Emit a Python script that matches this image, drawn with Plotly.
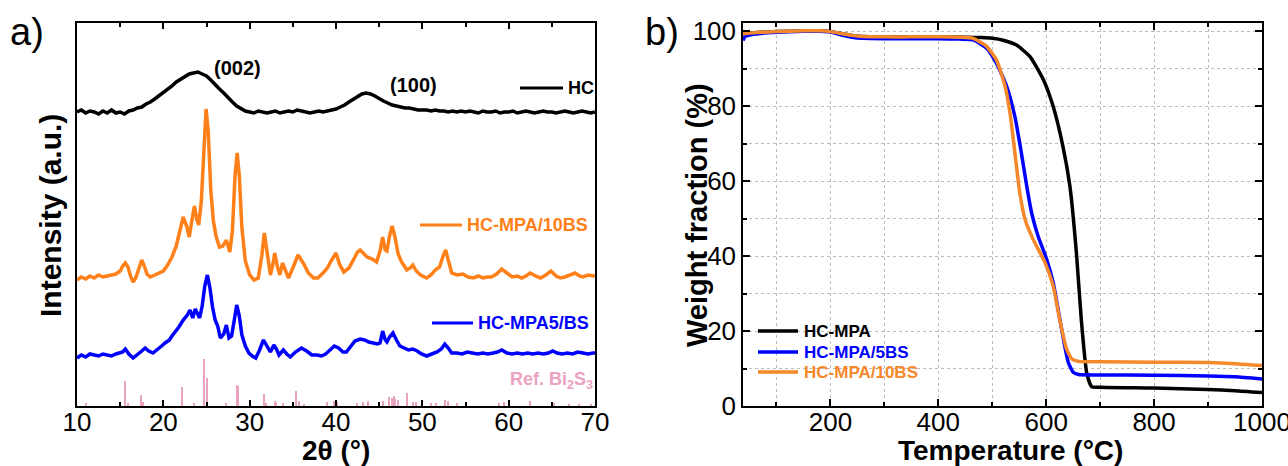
import plotly.graph_objects as go

# ---------------- Panel a: XRD ----------------
hc_x = [10, 10.5, 11, 11.5, 12, 12.5, 13, 13.5, 14, 14.5, 15, 15.5, 16, 16.5, 17, 17.5, 18, 18.5, 19, 19.5,
        20, 20.5, 21, 21.5, 22, 22.5, 23, 23.5, 24, 24.5, 25, 25.5, 26, 26.5, 27, 27.5, 28, 28.5, 29, 29.5,
        30, 30.5, 31, 31.5, 32, 32.5, 33, 33.5, 34, 34.5, 35, 35.5, 36, 36.5, 37, 37.5, 38, 38.5, 39, 39.5,
        40, 40.5, 41, 41.5, 42, 42.5, 43, 43.5, 44, 44.5, 45, 45.5, 46, 46.5, 47, 47.5, 48, 48.5, 49, 49.5,
        50, 50.5, 51, 51.5, 52, 52.5, 53, 53.5, 54, 54.5, 55, 55.5, 56, 56.5, 57, 57.5, 58, 58.5, 59, 59.5,
        60, 60.5, 61, 61.5, 62, 62.5, 63, 63.5, 64, 64.5, 65, 65.5, 66, 66.5, 67, 67.5, 68, 68.5, 69, 69.5, 70]
hc_y = [294, 296, 293, 295, 294, 292, 295, 293, 296, 293, 294, 292, 295, 296, 298, 299, 302, 304, 307, 310,
        314, 317, 320, 324, 327, 330, 332, 333, 334, 332, 330, 326, 321, 317, 313, 308, 304, 300, 297, 295,
        294, 293, 295, 294, 293, 294, 295, 293, 294, 295, 294, 296, 295, 294, 293, 294, 295, 294, 295, 296,
        297, 299, 301, 304, 307, 310, 312, 313, 312, 310, 307, 305, 303, 301, 300, 299, 298, 298, 297, 296,
        296, 296, 295, 296, 295, 295, 294, 295, 294, 295, 294, 295, 294, 293, 295, 294, 294, 295, 293, 294,
        294, 295, 293, 294, 295, 294, 293, 294, 295, 294, 294, 293, 294, 295, 294, 293, 294, 295, 294, 293, 294]

bs10_x = [10, 10.5, 11, 11.5, 12, 12.5, 13, 13.5, 14, 14.5, 15, 15.3, 15.6, 15.9, 16.2, 16.5, 16.8, 17.1, 17.5, 17.8,
          18.1, 18.5, 19, 19.5, 20, 20.5, 21, 21.5, 21.9, 22.3, 22.7, 23.0, 23.3, 23.6, 23.9, 24.1, 24.4, 24.7, 24.95, 25.2,
          25.5, 25.8, 26.1, 26.5, 26.9, 27.3, 27.7, 28.0, 28.3, 28.55, 28.8, 29.1, 29.5, 30.0, 30.5, 31.0, 31.4, 31.7, 32.0, 32.4,
          32.7, 32.9, 33.2, 33.5, 33.8, 34.1, 34.5, 35.0, 35.6, 36.2, 36.8, 37.4, 37.9, 38.5, 39.0, 39.5, 40.0, 40.4, 40.9, 41.5,
          42.0, 42.5, 42.8, 43.2, 43.6, 44.2, 44.7, 45.1, 45.4, 45.7, 45.9, 46.2, 46.5, 46.8, 47.2, 47.6, 48.2, 48.6, 48.9, 49.3,
          49.8, 50.5, 51.0, 51.5, 52.0, 52.4, 52.7, 53.0, 53.4, 54.0, 54.7, 55.3, 55.9, 56.5, 57.0, 57.5, 58.0, 58.6, 59.2, 59.8,
          60.4, 61.0, 61.5, 62.0, 62.5, 63.1, 63.7, 64.3, 64.9, 65.5, 66.0, 66.5, 67.1, 67.7, 68.2, 68.6, 69.2, 69.8, 70]
bs10_y = [126, 129, 127, 130, 128, 131, 129, 130, 131, 132, 135, 140, 143, 139, 130, 124, 128, 136, 146, 140,
          132, 129, 131, 133, 135, 141, 149, 160, 175, 189, 180, 169, 185, 200, 186, 181, 205, 260, 297, 275,
          215, 185, 170, 159, 160, 166, 154, 175, 230, 253, 230, 178, 145, 131, 126, 128, 150, 173, 155, 131,
          142, 153, 140, 131, 143, 137, 128, 138, 151, 143, 133, 128, 128, 133, 138, 146, 153, 142, 134, 138,
          146, 154, 156, 152, 149, 147, 144, 155, 169, 156, 155, 170, 180, 170, 152, 144, 136, 138, 141, 135,
          131, 128, 131, 136, 139, 150, 156, 146, 133, 131, 132, 129, 128, 130, 128, 129, 129, 132, 137, 133,
          129, 130, 128, 130, 133, 130, 128, 131, 135, 130, 128, 129, 131, 133, 130, 129, 131, 130, 131]

bs5_x = [10, 10.5, 11, 11.5, 12, 12.5, 13, 13.5, 14, 14.5, 15, 15.3, 15.6, 16.0, 16.5, 17.0, 17.5, 17.9, 18.3, 18.8,
         19.3, 19.8, 20.2, 20.7, 21.0, 21.4, 21.8, 22.3, 22.7, 23.1, 23.4, 23.7, 24.0, 24.2, 24.5, 24.8, 25.1, 25.4, 25.7, 26.0,
         26.3, 26.6, 27.0, 27.3, 27.6, 27.9, 28.2, 28.5, 28.8, 29.1, 29.5, 29.9, 30.3, 30.7, 31.1, 31.6, 32.0, 32.4, 32.8, 33.1,
         33.4, 33.9, 34.3, 34.7, 35.3, 36.0, 36.6, 37.2, 37.8, 38.3, 38.8, 39.3, 39.8, 40.3, 40.8, 41.2, 41.7, 42.2, 42.8, 43.3,
         43.8, 44.3, 44.8, 45.1, 45.4, 45.7, 45.9, 46.2, 46.6, 47.0, 47.4, 47.9, 48.4, 48.9, 49.4, 49.9, 50.5, 51.1, 51.7, 52.2,
         52.6, 53.0, 53.4, 54.0, 54.6, 55.2, 55.8, 56.4, 57.0, 57.6, 58.2, 58.7, 59.2, 59.8, 60.4, 61.0, 61.6, 62.2, 62.8, 63.4,
         64.0, 64.6, 65.1, 65.6, 66.2, 66.8, 67.4, 68.0, 68.6, 69.2, 69.8, 70]
bs5_y = [48, 51, 49, 52, 51, 50, 52, 51, 50, 52, 53, 54, 57, 52, 48, 52, 55, 58, 55, 53,
         56, 60, 63, 66, 70, 74, 79, 86, 90, 96, 88, 97, 92, 88, 100, 120, 131, 118, 99, 86,
         80, 68, 72, 81, 68, 70, 85, 101, 90, 71, 60, 53, 50, 48, 55, 66, 60, 54, 61, 57,
         51, 56, 52, 49, 54, 58, 55, 51, 51, 50, 52, 56, 60, 58, 54, 54, 60, 65, 67, 66,
         64, 63, 62, 63, 75, 66, 64, 69, 73, 66, 60, 58, 56, 57, 55, 52, 50, 52, 54, 57,
         62, 58, 53, 53, 52, 54, 53, 52, 53, 52, 53, 54, 56, 53, 52, 53, 52, 53, 52, 53,
         52, 53, 55, 53, 52, 53, 52, 54, 53, 52, 53, 53]

ref_pos = [11.0, 15.6, 15.9, 17.4, 17.6, 22.2, 23.6, 24.75, 25.05, 27.3, 28.5, 28.65, 31.7, 31.9, 32.9, 33.1,
           33.9, 35.4, 35.7, 36.3, 39.0, 39.8, 40.1, 42.5, 43.1, 43.7, 45.5, 46.2, 46.5, 46.7, 46.9, 47.2,
           48.2, 48.9, 49.3, 51.0, 51.6, 52.6, 53.0, 54.0, 58.9, 59.5, 62.5, 65.3, 67.0, 68.2, 69.5]
ref_h = [3, 25, 3, 11, 4, 19, 3, 47, 28, 3, 21, 20, 12, 3, 5, 3,
         3, 15, 5, 2, 4, 5, 4, 3, 4, 5, 5, 9, 8, 10, 7, 6,
         13, 4, 4, 3, 3, 6, 5, 3, 3, 4, 5, 3, 2, 2, 2]

# ---------------- Panel b: TGA ----------------
t_hc = [38, 50, 70, 100, 150, 180, 200, 220, 240, 260, 300, 350, 400, 450, 480, 500, 520, 545, 570, 595,
        613, 631, 644, 656, 665, 675, 684, 700, 800, 900, 950, 1000]
w_hc = [99.3, 99.5, 99.7, 99.9, 100.1, 100.1, 99.9, 99.4, 98.9, 98.6, 98.5, 98.5, 98.5, 98.4, 98.3, 98.1, 97.6, 96.3, 93.2, 87.0,
        79.9, 69.3, 58.6, 40.9, 23.1, 8.9, 5.2, 5.0, 4.8, 4.4, 4.1, 3.6]
t_5bs = [38, 42, 50, 70, 100, 150, 180, 200, 220, 240, 260, 300, 350, 400, 440, 465, 490, 508, 527, 542,
         554, 564, 573, 585, 601, 613, 622, 632, 641, 650, 660, 700, 800, 900, 950, 1000]
w_5bs = [97.5, 98.6, 99.0, 99.4, 99.7, 100.0, 100.0, 99.8, 99.0, 98.4, 98.1, 98.0, 98.0, 98.0, 97.9, 97.7, 95.4, 91.4, 85.2, 77.2,
         67.5, 58.6, 51.5, 45.3, 39.1, 32.9, 25.8, 17.8, 11.6, 9.0, 8.4, 8.3, 8.2, 8.0, 7.8, 7.2]
t_10bs = [38, 50, 70, 100, 150, 180, 200, 220, 240, 260, 300, 350, 400, 440, 465, 490, 508, 524, 533, 542,
          551, 561, 576, 598, 613, 625, 638, 648, 660, 700, 800, 900, 950, 1000]
w_10bs = [99.3, 99.5, 99.7, 99.9, 100.1, 100.1, 99.9, 99.4, 98.9, 98.6, 98.5, 98.5, 98.5, 98.4, 98.1, 95.9, 92.3, 85.2, 78.1, 67.5,
          56.9, 49.7, 44.4, 38.2, 32.0, 23.1, 15.1, 12.5, 11.9, 11.8, 11.7, 11.6, 11.3, 10.8]

W, H = 1288, 466
FONT = "Liberation Sans"
BLACK = "#000000"
ORANGE_A = "#ff8019"
BLUE = "#0000ff"
PINK = "#e9a3c1"
ORANGE_B = "#f5882a"


def px(x):
    return x / W


def py(y):
    return 1 - y / H


fig = go.Figure()

fig.add_trace(go.Bar(x=ref_pos, y=ref_h, width=0.14, marker=dict(color=PINK, line=dict(width=0)),
                     xaxis="x", yaxis="y", showlegend=False))
fig.add_trace(go.Scatter(x=hc_x, y=hc_y, mode="lines", line=dict(color=BLACK, width=3.5),
                         xaxis="x", yaxis="y", showlegend=False))
fig.add_trace(go.Scatter(x=bs10_x, y=bs10_y, mode="lines", line=dict(color=ORANGE_A, width=3.5),
                         xaxis="x", yaxis="y", showlegend=False))
fig.add_trace(go.Scatter(x=bs5_x, y=bs5_y, mode="lines", line=dict(color=BLUE, width=3.5),
                         xaxis="x", yaxis="y", showlegend=False))

fig.add_trace(go.Scatter(x=t_hc, y=w_hc, mode="lines", line=dict(color=BLACK, width=3.5, shape="spline", smoothing=0.5),
                         xaxis="x2", yaxis="y2", showlegend=False))
fig.add_trace(go.Scatter(x=t_5bs, y=w_5bs, mode="lines", line=dict(color=BLUE, width=3.5, shape="spline", smoothing=0.5),
                         xaxis="x2", yaxis="y2", showlegend=False))
fig.add_trace(go.Scatter(x=t_10bs, y=w_10bs, mode="lines", line=dict(color=ORANGE_B, width=3.5, shape="spline", smoothing=0.5),
                         xaxis="x2", yaxis="y2", showlegend=False))

tickfont = dict(family=FONT, size=26, color="black")
ydom = [py(406), py(23)]

fig.update_layout(
    width=W, height=H, margin=dict(l=0, r=0, t=0, b=0, autoexpand=False),
    plot_bgcolor="white", paper_bgcolor="white", bargap=0,
    xaxis=dict(domain=[px(77), px(595)], range=[10, 70], tickvals=[10, 20, 30, 40, 50, 60, 70],
               ticks="inside", ticklen=6, tickwidth=1.5, tickcolor="black",
               minor=dict(dtick=5, tick0=0, ticks="inside", ticklen=4, tickwidth=1.5, tickcolor="black"),
               showline=True, linecolor="black", linewidth=1.5, mirror="ticks",
               showgrid=False, zeroline=False, tickfont=tickfont, anchor="y", automargin=False,
               ticklabeloverflow="allow", ticklabelstandoff=-8),
    yaxis=dict(domain=ydom, range=[0, 383], showticklabels=False, ticks="",
               showline=True, linecolor="black", linewidth=1.5, mirror=True,
               showgrid=False, zeroline=False, anchor="x", automargin=False),
    xaxis2=dict(domain=[px(743), px(1262)], range=[38, 1000], tickvals=[200, 400, 600, 800, 1000],
                ticks="inside", ticklen=7, tickwidth=1.5, tickcolor="black",
                minor=dict(dtick=100, tick0=0, ticks="inside", ticklen=4, tickwidth=1.5, tickcolor="black",
                           showgrid=True, gridcolor="#bdbdbd", griddash="dot", gridwidth=1),
                showgrid=True, gridcolor="#bdbdbd", griddash="dot", gridwidth=1,
                showline=True, linecolor="black", linewidth=1.5, mirror="ticks",
                zeroline=False, tickfont=tickfont, anchor="y2", automargin=False,
                ticklabeloverflow="allow", ticklabelstandoff=-8),
    yaxis2=dict(domain=ydom, range=[0, 102.2], tickvals=[0, 20, 40, 60, 80, 100],
                ticks="inside", ticklen=7, tickwidth=1.5, tickcolor="black",
                minor=dict(dtick=10, tick0=0, ticks="inside", ticklen=4, tickwidth=1.5, tickcolor="black",
                           showgrid=True, gridcolor="#bdbdbd", griddash="dot", gridwidth=1),
                showgrid=True, gridcolor="#bdbdbd", griddash="dot", gridwidth=1,
                showline=True, linecolor="black", linewidth=1.5, mirror="ticks",
                zeroline=False, tickfont=tickfont, anchor="x2", automargin=False,
                ticklabeloverflow="allow"),
)

ann = []


def text(x, y, s, size, color="black", xanchor="center", yanchor="middle", angle=0, bold=True):
    ann.append(dict(x=px(x), y=py(y), xref="paper", yref="paper", text=(f"<b>{s}</b>" if bold else s),
                    showarrow=False, xanchor=xanchor, yanchor=yanchor, textangle=angle,
                    font=dict(family=FONT, size=size, color=color)))


# panel labels
text(8, 32, "a)", 38, xanchor="left", bold=False)
text(643, 32, "b)", 38, xanchor="left", bold=False)
# axis titles
text(50, 215, "Intensity (a.u.)", 30, angle=-90)
text(336, 450, "2θ (°)", 28)
text(697, 215, "Weight fraction (%)", 29, angle=-90)
text(1010, 450, "Temperature (°C)", 28)
# peak labels
text(238, 68, "(002)", 20)
text(413, 85, "(100)", 20)

shapes = []


def seg(x0, x1, y, color, width=3):
    shapes.append(dict(type="line", xref="paper", yref="paper", x0=px(x0), x1=px(x1), y0=py(y), y1=py(y),
                       line=dict(color=color, width=width)))


# panel a legends
seg(520, 563, 88, BLACK)
text(566, 88, "HC", 18, xanchor="left")
seg(420, 462, 225, ORANGE_A)
text(465, 225, "HC-MPA/10BS", 18, color=ORANGE_A, xanchor="left")
seg(432, 473, 323, BLUE)
text(476, 323, "HC-MPA5/BS", 18, color=BLUE, xanchor="left")
text(595, 380, "Ref. Bi<sub>2</sub>S<sub>3</sub>", 18, color=PINK, xanchor="right")

# panel b legend
seg(758, 798, 331, BLACK, 3.5)
text(802, 331, "HC-MPA", 17, xanchor="left")
seg(758, 798, 352, BLUE, 3.5)
text(802, 352, "HC-MPA/5BS", 17, color=BLUE, xanchor="left")
seg(758, 798, 372, ORANGE_B, 3.5)
text(802, 372, "HC-MPA/10BS", 17, color=ORANGE_B, xanchor="left")

fig.update_layout(annotations=ann, shapes=shapes)
fig.write_html("out.html", config={"displayModeBar": False},
               post_script="document.body.style.margin='0';document.body.style.overflow='hidden';")
